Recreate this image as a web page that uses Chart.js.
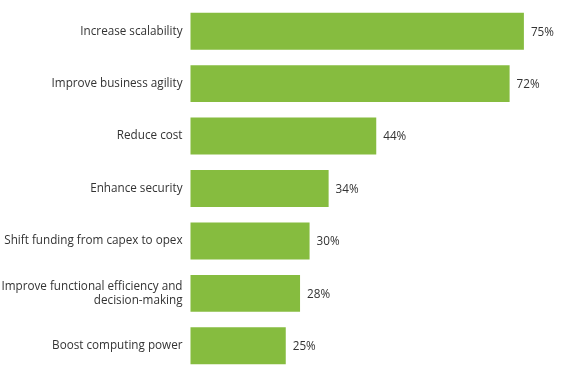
<!DOCTYPE html>
<html>
<head>
<meta charset="utf-8">
<script src="https://cdn.jsdelivr.net/npm/chart.js@4/dist/chart.umd.min.js"></script>
<style>
  html, body { margin: 0; padding: 0; background: #ffffff; overflow: hidden; }
  #wrap { width: 562px; height: 372px; position: relative; }
</style>
</head>
<body>
<div id="wrap"><canvas id="chart"></canvas></div>
<script>
const categories = [
  "Increase scalability",
  "Improve business agility",
  "Reduce cost",
  "Enhance security",
  "Shift funding from capex to opex",
  ["Improve functional efficiency and", "decision-making"],
  "Boost computing power"
];
const values = [75, 72, 44, 34, 30, 28, 25];

const BAR_GREEN = "#86bc3f";
const TEXT_GREY = "#333333";
const FONT = "\"Open Sans\", sans-serif";

// etiquetas de valor al final de cada barra
const valueLabels = {
  id: "valueLabels",
  afterDatasetsDraw(chart) {
    const ctx = chart.ctx;
    const meta = chart.getDatasetMeta(0);
    ctx.save();
    ctx.fillStyle = TEXT_GREY;
    ctx.font = "11.7px " + FONT;
    ctx.textAlign = "left";
    ctx.textBaseline = "middle";
    meta.data.forEach((bar, i) => {
      ctx.fillText(values[i] + "%", bar.x + 7, bar.y + 1);
    });
    ctx.restore();
  }
};

new Chart(document.getElementById("chart"), {
  type: "bar",
  data: {
    labels: categories,
    datasets: [
      {
        data: values,
        backgroundColor: BAR_GREEN,
        borderWidth: 0,
        categoryPercentage: 1,
        barPercentage: 0.705
      }
    ]
  },
  options: {
    indexAxis: "y",
    responsive: true,
    maintainAspectRatio: false,
    animation: false,
    layout: { padding: { top: 5, bottom: 0, left: 0, right: 0 } },
    plugins: {
      legend: { display: false },
      tooltip: { enabled: false }
    },
    scales: {
      x: {
        display: false,
        min: 5,
        max: 83
      },
      y: {
        grid: { display: false, drawTicks: false },
        border: { display: false },
        ticks: {
          color: TEXT_GREY,
          padding: 8,
          font: { family: FONT, size: 11.7 }
        },
        afterFit: (scale) => {
          scale.width = 190.5;
          scale.paddingTop = 0;
          scale.paddingBottom = 0;
        }
      }
    }
  },
  plugins: [valueLabels]
});
</script>
</body>
</html>
